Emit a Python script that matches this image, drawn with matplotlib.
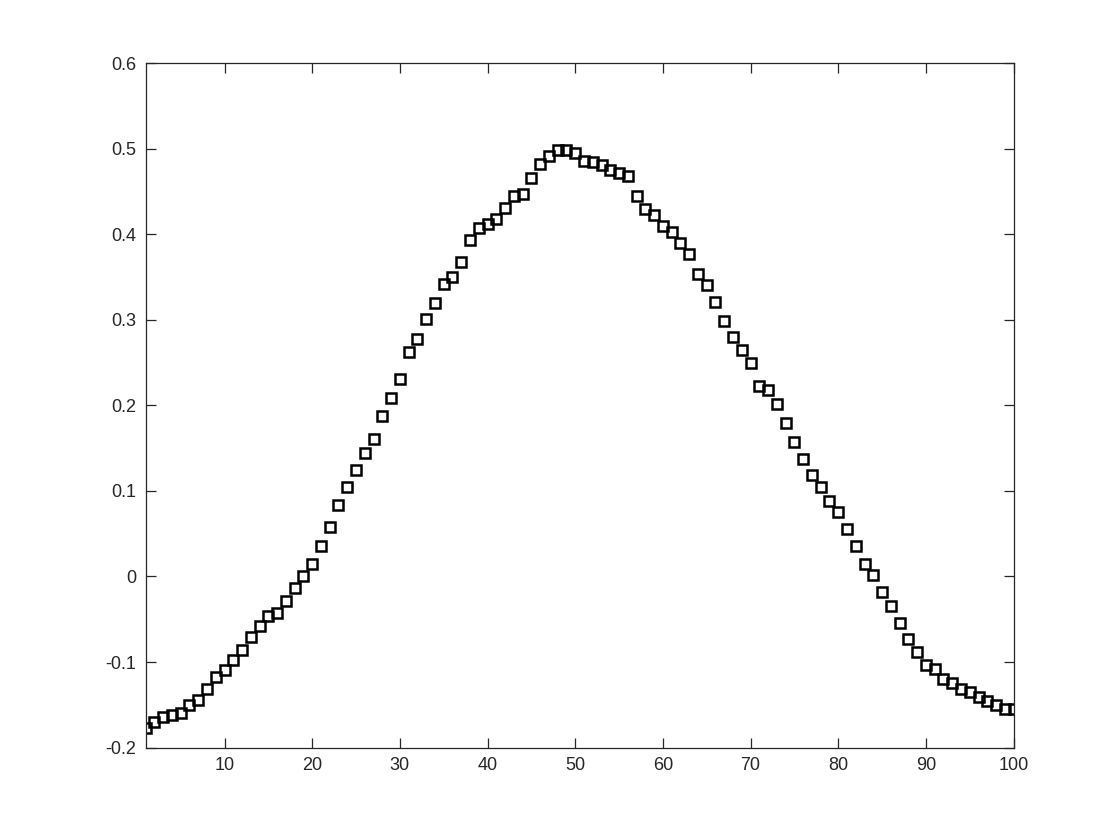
import numpy as np
import matplotlib
matplotlib.use('Agg')
import matplotlib.pyplot as plt
from matplotlib.ticker import FuncFormatter

# values
x = np.arange(1, 101)
y = [-0.177, -0.170, -0.164, -0.162, -0.159, -0.150, -0.144, -0.132, -0.118, -0.109,
     -0.098, -0.086, -0.071, -0.058, -0.046, -0.043, -0.029, -0.014, 0.001, 0.015,
     0.036, 0.058, 0.083, 0.104, 0.124, 0.144, 0.161, 0.188, 0.209, 0.231,
     0.262, 0.277, 0.301, 0.320, 0.342, 0.350, 0.368, 0.393, 0.407, 0.412,
     0.418, 0.431, 0.444, 0.447, 0.466, 0.482, 0.491, 0.498, 0.498, 0.495,
     0.485, 0.484, 0.481, 0.475, 0.472, 0.468, 0.445, 0.429, 0.422, 0.409,
     0.402, 0.390, 0.377, 0.353, 0.341, 0.321, 0.299, 0.280, 0.265, 0.249,
     0.223, 0.218, 0.201, 0.179, 0.157, 0.137, 0.119, 0.104, 0.088, 0.075,
     0.055, 0.036, 0.014, 0.002, -0.018, -0.034, -0.054, -0.073, -0.088, -0.104,
     -0.108, -0.120, -0.124, -0.132, -0.135, -0.141, -0.146, -0.150, -0.155, -0.155]
xticks = np.arange(10, 101, 10)
yticks = np.arange(-0.2, 0.61, 0.1)

plt.rcParams['font.family'] = ['Liberation Sans', 'DejaVu Sans']
fig = plt.figure(figsize=(11.2, 8.4), dpi=100)
ax = fig.add_axes([0.13, 0.11, 0.775, 0.815])

ax.plot(x, y, 's', markersize=7.3, markerfacecolor='none',
        markeredgecolor='black', markeredgewidth=1.8)

ax.set_xlim(1, 100)
ax.set_ylim(-0.2, 0.6)
ax.set_xticks(xticks)
ax.set_yticks(yticks)
ax.yaxis.set_major_formatter(FuncFormatter(lambda v, p: '%g' % round(v, 1)))

gray = (0.15, 0.15, 0.15)
for s in ax.spines.values():
    s.set_color(gray)
    s.set_linewidth(0.9)
ax.tick_params(direction='in', length=7, width=0.9, colors=gray,
               labelsize=13, top=True, right=True, pad=7)

fig.savefig('out.png', dpi=100)
